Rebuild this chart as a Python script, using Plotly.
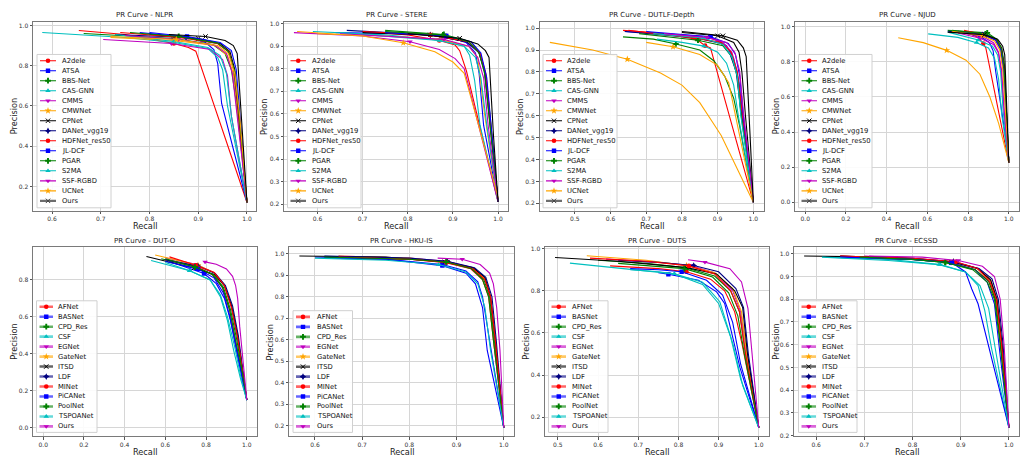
import plotly.graph_objects as go

W, H = 1030, 469

rgbd_methods = ["A2dele", "ATSA", "BBS-Net", "CAS-GNN", "CMMS", "CMWNet", "CPNet", "DANet_vgg19",
                "HDFNet_res50", "JL-DCF", "PGAR", "S2MA", "SSF-RGBD", "UCNet", "Ours"]
rgb_methods = ["AFNet", "BASNet", "CPD_Res", "CSF", "EGNet", "GateNet", "ITSD", "LDF",
               "MINet", "PiCANet", "PoolNet", "TSPOANet", "Ours"]
hku_methods = ["AFNet", "BASNet", "CPD_Res", "EGNet", "GateNet", "ITSD", "LDF",
               "MINet", "PiCANet", "PoolNet", "TSPOANet", "Ours"]

# ---------------- NLPR ----------------
nlpr_recall = [
    [0.655, 0.75, 0.85, 0.88, 0.895, 1.0],
    [0.78, 0.876, 0.915, 0.932, 0.94, 0.948, 1.0],
    [0.665, 0.85, 0.93, 0.955, 0.968, 0.978, 1.0],
    [0.58, 0.75, 0.85, 0.92, 0.94, 0.95, 0.96, 1.0],
    [0.705, 0.845, 0.925, 0.95, 0.96, 0.968, 1.0],
    [0.72, 0.85, 0.935, 0.96, 0.972, 0.982, 1.0],
    [0.8, 0.9, 0.945, 0.965, 0.975, 0.985, 1.0],
    [0.73, 0.875, 0.94, 0.962, 0.973, 0.982, 1.0],
    [0.74, 0.857, 0.94, 0.963, 0.975, 0.985, 1.0],
    [0.8, 0.877, 0.945, 0.968, 0.978, 0.986, 1.0],
    [0.76, 0.86, 0.94, 0.962, 0.975, 0.984, 1.0],
    [0.73, 0.85, 0.92, 0.945, 0.958, 0.968, 1.0],
    [0.75, 0.86, 0.935, 0.958, 0.97, 0.98, 1.0],
    [0.72, 0.855, 0.94, 0.962, 0.975, 0.985, 1.0],
    [0.84, 0.915, 0.955, 0.972, 0.98, 0.99, 1.0],
]
nlpr_precision = [
    [0.975, 0.955, 0.91, 0.89, 0.872, 0.12],
    [0.965, 0.942, 0.915, 0.88, 0.81, 0.612, 0.12],
    [0.96, 0.935, 0.905, 0.86, 0.78, 0.62, 0.12],
    [0.965, 0.94, 0.915, 0.885, 0.84, 0.78, 0.6, 0.12],
    [0.93, 0.91, 0.88, 0.83, 0.75, 0.55, 0.12],
    [0.94, 0.925, 0.9, 0.85, 0.76, 0.55, 0.12],
    [0.955, 0.935, 0.91, 0.87, 0.78, 0.5, 0.12],
    [0.955, 0.94, 0.91, 0.87, 0.78, 0.58, 0.12],
    [0.965, 0.942, 0.91, 0.87, 0.76, 0.5, 0.12],
    [0.965, 0.945, 0.915, 0.875, 0.78, 0.55, 0.12],
    [0.965, 0.945, 0.912, 0.87, 0.77, 0.55, 0.12],
    [0.955, 0.92, 0.89, 0.85, 0.76, 0.55, 0.12],
    [0.95, 0.93, 0.9, 0.86, 0.76, 0.55, 0.12],
    [0.945, 0.93, 0.9, 0.86, 0.76, 0.55, 0.12],
    [0.955, 0.945, 0.925, 0.9, 0.86, 0.5, 0.12],
]
nlpr_mark = [2, 1, 1, 2, 1, 1, 1, 1, 1, 1, 1, 1, 1, 1, 1]

# ---------------- STERE ----------------
stere_recall = [
    [0.7, 0.8, 0.87, 0.905, 0.915, 0.93, 1.0],
    [0.64, 0.8, 0.885, 0.93, 0.95, 0.958, 0.968, 1.0],
    [0.75, 0.88, 0.94, 0.96, 0.972, 0.982, 1.0],
    [0.59, 0.75, 0.875, 0.925, 0.937, 0.948, 0.96, 1.0],
    [0.548, 0.7, 0.805, 0.87, 0.905, 0.925, 1.0],
    [0.6, 0.75, 0.87, 0.935, 0.955, 0.97, 1.0],
    [0.7, 0.85, 0.93, 0.957, 0.97, 0.98, 1.0],
    [0.665, 0.85, 0.93, 0.958, 0.972, 0.982, 1.0],
    [0.7, 0.85, 0.935, 0.96, 0.973, 0.983, 1.0],
    [0.75, 0.885, 0.94, 0.962, 0.975, 0.985, 1.0],
    [0.75, 0.878, 0.935, 0.958, 0.97, 0.98, 1.0],
    [0.65, 0.87, 0.925, 0.95, 0.962, 0.975, 1.0],
    [0.65, 0.88, 0.935, 0.955, 0.968, 0.978, 1.0],
    [0.555, 0.7, 0.79, 0.86, 0.9, 0.925, 0.95, 1.0],
    [0.8, 0.915, 0.955, 0.972, 0.98, 0.99, 1.0],
]
stere_precision = [
    [0.965, 0.95, 0.925, 0.905, 0.88, 0.79, 0.21],
    [0.96, 0.955, 0.945, 0.915, 0.87, 0.78, 0.55, 0.21],
    [0.97, 0.952, 0.92, 0.87, 0.78, 0.6, 0.21],
    [0.965, 0.95, 0.925, 0.9, 0.86, 0.75, 0.55, 0.21],
    [0.96, 0.945, 0.92, 0.885, 0.845, 0.8, 0.21],
    [0.955, 0.945, 0.93, 0.9, 0.85, 0.6, 0.21],
    [0.96, 0.95, 0.92, 0.875, 0.79, 0.6, 0.21],
    [0.97, 0.95, 0.92, 0.87, 0.78, 0.58, 0.21],
    [0.965, 0.95, 0.92, 0.87, 0.78, 0.58, 0.21],
    [0.96, 0.945, 0.92, 0.87, 0.76, 0.55, 0.21],
    [0.965, 0.95, 0.92, 0.87, 0.78, 0.58, 0.21],
    [0.96, 0.925, 0.9, 0.85, 0.76, 0.55, 0.21],
    [0.955, 0.93, 0.9, 0.85, 0.76, 0.55, 0.21],
    [0.965, 0.945, 0.915, 0.875, 0.83, 0.78, 0.6, 0.23],
    [0.955, 0.935, 0.91, 0.88, 0.85, 0.5, 0.21],
]
stere_mark = [2, 2, 1, 2, 2, 2, 1, 1, 1, 1, 1, 1, 1, 2, 1]

# ---------------- DUTLF-Depth ----------------
dutlf_recall = [
    [0.635, 0.75, 0.84, 0.865, 0.88, 1.0],
    [0.64, 0.8, 0.88, 0.925, 0.945, 0.96, 0.97, 1.0],
    [0.635, 0.72, 0.783, 0.85, 0.89, 0.92, 0.945, 0.962, 1.0],
    [0.73, 0.8, 0.862, 0.9, 0.925, 0.945, 0.958, 1.0],
    [0.75, 0.87, 0.915, 0.94, 0.955, 0.965, 1.0],
    [0.43, 0.55, 0.647, 0.74, 0.8, 0.85, 0.89, 0.91, 1.0],
    [0.8, 0.9, 0.945, 0.96, 0.968, 0.978, 1.0],
    [0.64, 0.84, 0.91, 0.935, 0.952, 0.963, 1.0],
    [0.65, 0.835, 0.91, 0.938, 0.955, 0.968, 1.0],
    [0.7, 0.88, 0.93, 0.95, 0.962, 0.972, 1.0],
    [0.68, 0.845, 0.915, 0.94, 0.955, 0.966, 1.0],
    [0.72, 0.86, 0.915, 0.94, 0.955, 0.965, 1.0],
    [0.75, 0.87, 0.925, 0.948, 0.962, 0.972, 1.0],
    [0.7, 0.775, 0.85, 0.9, 0.931, 1.0],
    [0.8, 0.915, 0.955, 0.972, 0.98, 0.988, 1.0],
]
dutlf_precision = [
    [0.99, 0.975, 0.95, 0.92, 0.91, 0.205],
    [0.985, 0.97, 0.96, 0.92, 0.86, 0.75, 0.6, 0.205],
    [0.96, 0.95, 0.928, 0.9, 0.85, 0.78, 0.68, 0.55, 0.205],
    [0.95, 0.935, 0.918, 0.89, 0.84, 0.74, 0.6, 0.205],
    [0.975, 0.958, 0.935, 0.89, 0.8, 0.65, 0.205],
    [0.935, 0.9, 0.858, 0.795, 0.74, 0.66, 0.56, 0.51, 0.205],
    [0.98, 0.965, 0.935, 0.89, 0.8, 0.6, 0.205],
    [0.985, 0.955, 0.93, 0.88, 0.8, 0.65, 0.205],
    [0.99, 0.955, 0.935, 0.89, 0.8, 0.62, 0.205],
    [0.985, 0.96, 0.93, 0.88, 0.78, 0.6, 0.205],
    [0.975, 0.945, 0.92, 0.87, 0.78, 0.6, 0.205],
    [0.975, 0.955, 0.925, 0.87, 0.78, 0.6, 0.205],
    [0.975, 0.958, 0.935, 0.89, 0.8, 0.62, 0.205],
    [0.935, 0.915, 0.88, 0.83, 0.751, 0.205],
    [0.985, 0.965, 0.945, 0.91, 0.87, 0.6, 0.205],
]
dutlf_mark = [3, 2, 2, 2, 1, 2, 1, 1, 1, 1, 1, 1, 1, 1, 1]

# ---------------- NJUD ----------------
njud_recall = [
    [0.78, 0.85, 0.875, 0.887, 1.0],
    [0.75, 0.86, 0.905, 0.923, 0.935, 1.0],
    [0.7, 0.894, 0.94, 0.962, 0.975, 0.985, 1.0],
    [0.604, 0.75, 0.842, 0.9, 0.93, 0.95, 0.965, 1.0],
    [0.75, 0.87, 0.925, 0.948, 0.962, 0.975, 1.0],
    [0.457, 0.58, 0.695, 0.79, 0.858, 0.907, 0.95, 1.0],
    [0.72, 0.88, 0.94, 0.965, 0.978, 0.988, 1.0],
    [0.7, 0.87, 0.935, 0.96, 0.973, 0.983, 1.0],
    [0.78, 0.88, 0.94, 0.963, 0.976, 0.986, 1.0],
    [0.75, 0.875, 0.935, 0.96, 0.973, 0.983, 1.0],
    [0.72, 0.885, 0.94, 0.963, 0.976, 0.986, 1.0],
    [0.7, 0.85, 0.92, 0.945, 0.96, 0.972, 1.0],
    [0.75, 0.86, 0.925, 0.95, 0.965, 0.977, 1.0],
    [0.72, 0.87, 0.93, 0.955, 0.97, 0.982, 1.0],
    [0.7, 0.88, 0.945, 0.97, 0.98, 0.99, 1.0],
]
njud_precision = [
    [0.975, 0.94, 0.905, 0.88, 0.225],
    [0.975, 0.945, 0.91, 0.863, 0.75, 0.25],
    [0.98, 0.966, 0.93, 0.88, 0.78, 0.6, 0.225],
    [0.96, 0.94, 0.91, 0.88, 0.82, 0.7, 0.5, 0.225],
    [0.97, 0.945, 0.91, 0.86, 0.75, 0.55, 0.225],
    [0.938, 0.91, 0.866, 0.81, 0.73, 0.6, 0.45, 0.225],
    [0.975, 0.955, 0.925, 0.88, 0.78, 0.55, 0.225],
    [0.975, 0.955, 0.925, 0.875, 0.77, 0.55, 0.225],
    [0.98, 0.955, 0.925, 0.875, 0.77, 0.55, 0.225],
    [0.975, 0.955, 0.925, 0.87, 0.76, 0.55, 0.225],
    [0.98, 0.96, 0.93, 0.88, 0.78, 0.58, 0.225],
    [0.97, 0.925, 0.89, 0.84, 0.74, 0.52, 0.225],
    [0.965, 0.935, 0.9, 0.85, 0.75, 0.52, 0.225],
    [0.975, 0.95, 0.92, 0.87, 0.76, 0.55, 0.225],
    [0.97, 0.955, 0.93, 0.89, 0.84, 0.55, 0.225],
]
njud_mark = [2, 1, 1, 2, 1, 2, 1, 1, 1, 1, 1, 1, 1, 1, 1]

# ---------------- DUT-O ----------------
duto_recall = [
    [0.6, 0.75, 0.83, 0.88, 0.915, 0.945, 0.975, 1.0],
    [0.62, 0.79, 0.85, 0.89, 0.92, 0.95, 0.975, 1.0],
    [0.58, 0.745, 0.83, 0.88, 0.915, 0.945, 0.975, 1.0],
    [0.53, 0.72, 0.82, 0.87, 0.905, 0.94, 0.97, 1.0],
    [0.6, 0.75, 0.84, 0.89, 0.925, 0.955, 0.98, 1.0],
    [0.55, 0.76, 0.84, 0.89, 0.925, 0.955, 0.98, 1.0],
    [0.507, 0.74, 0.84, 0.89, 0.925, 0.955, 0.98, 1.0],
    [0.6, 0.76, 0.845, 0.895, 0.93, 0.958, 0.982, 1.0],
    [0.62, 0.75, 0.84, 0.89, 0.925, 0.955, 0.98, 1.0],
    [0.6, 0.76, 0.84, 0.885, 0.915, 0.945, 0.975, 1.0],
    [0.6, 0.745, 0.835, 0.885, 0.92, 0.95, 0.978, 1.0],
    [0.6, 0.72, 0.82, 0.87, 0.905, 0.935, 0.968, 1.0],
    [0.795, 0.85, 0.9, 0.93, 0.945, 0.955, 0.965, 1.0],
]
duto_precision = [
    [0.91, 0.875, 0.83, 0.76, 0.64, 0.48, 0.3, 0.15],
    [0.9, 0.835, 0.78, 0.7, 0.58, 0.42, 0.28, 0.15],
    [0.915, 0.87, 0.83, 0.76, 0.64, 0.48, 0.3, 0.15],
    [0.905, 0.85, 0.8, 0.72, 0.6, 0.44, 0.28, 0.15],
    [0.92, 0.885, 0.84, 0.77, 0.65, 0.48, 0.3, 0.15],
    [0.935, 0.88, 0.84, 0.77, 0.66, 0.5, 0.3, 0.15],
    [0.927, 0.865, 0.83, 0.77, 0.66, 0.5, 0.3, 0.15],
    [0.91, 0.875, 0.835, 0.77, 0.66, 0.5, 0.3, 0.15],
    [0.925, 0.88, 0.84, 0.77, 0.65, 0.49, 0.3, 0.15],
    [0.9, 0.86, 0.81, 0.73, 0.61, 0.45, 0.28, 0.15],
    [0.915, 0.87, 0.83, 0.76, 0.64, 0.48, 0.3, 0.15],
    [0.895, 0.85, 0.8, 0.71, 0.58, 0.42, 0.27, 0.15],
    [0.898, 0.885, 0.86, 0.82, 0.77, 0.7, 0.55, 0.15],
]
duto_mark = [1, 1, 1, 1, 1, 1, 1, 1, 1, 1, 1, 1, 0]

# ---------------- HKU-IS ----------------
hku_recall = [
    [0.69, 0.8, 0.875, 0.93, 0.955, 0.968, 0.978, 1.0],
    [0.6, 0.75, 0.87, 0.92, 0.945, 0.955, 1.0],
    [0.62, 0.8, 0.88, 0.935, 0.958, 0.97, 0.98, 1.0],
    [0.65, 0.8, 0.878, 0.935, 0.96, 0.972, 0.982, 1.0],
    [0.65, 0.8, 0.878, 0.935, 0.96, 0.972, 0.982, 1.0],
    [0.567, 0.75, 0.875, 0.935, 0.96, 0.972, 0.982, 1.0],
    [0.62, 0.8, 0.88, 0.938, 0.962, 0.975, 0.984, 1.0],
    [0.65, 0.8, 0.878, 0.935, 0.96, 0.972, 0.982, 1.0],
    [0.62, 0.75, 0.87, 0.92, 0.94, 0.955, 0.965, 1.0],
    [0.62, 0.8, 0.878, 0.932, 0.955, 0.968, 0.978, 1.0],
    [0.6, 0.75, 0.862, 0.92, 0.945, 0.96, 0.972, 1.0],
    [0.86, 0.912, 0.95, 0.97, 0.978, 0.985, 0.992, 1.0],
]
hku_precision = [
    [0.975, 0.975, 0.96, 0.93, 0.88, 0.8, 0.6, 0.19],
    [0.985, 0.975, 0.95, 0.92, 0.87, 0.8, 0.19],
    [0.985, 0.975, 0.965, 0.93, 0.88, 0.8, 0.6, 0.19],
    [0.99, 0.98, 0.965, 0.935, 0.885, 0.8, 0.6, 0.19],
    [0.99, 0.98, 0.962, 0.935, 0.885, 0.8, 0.6, 0.19],
    [0.99, 0.985, 0.962, 0.935, 0.89, 0.8, 0.6, 0.19],
    [0.99, 0.98, 0.965, 0.935, 0.89, 0.8, 0.6, 0.19],
    [0.985, 0.975, 0.96, 0.93, 0.88, 0.8, 0.6, 0.19],
    [0.98, 0.975, 0.945, 0.91, 0.86, 0.75, 0.55, 0.19],
    [0.985, 0.975, 0.962, 0.93, 0.88, 0.8, 0.6, 0.19],
    [0.98, 0.97, 0.95, 0.915, 0.86, 0.75, 0.55, 0.19],
    [0.98, 0.975, 0.95, 0.91, 0.86, 0.75, 0.55, 0.19],
]
hku_mark = [2, 2, 2, 2, 2, 2, 2, 2, 2, 2, 2, 1]

# ---------------- DUTS ----------------
duts_recall = [
    [0.63, 0.75, 0.82, 0.88, 0.915, 0.94, 0.958, 1.0],
    [0.75, 0.775, 0.85, 0.895, 0.915, 0.953, 1.0],
    [0.6, 0.72, 0.815, 0.89, 0.93, 0.952, 0.967, 1.0],
    [0.53, 0.7, 0.79, 0.86, 0.903, 0.936, 0.96, 1.0],
    [0.62, 0.75, 0.83, 0.89, 0.935, 0.955, 0.97, 1.0],
    [0.572, 0.72, 0.82, 0.89, 0.935, 0.957, 0.97, 1.0],
    [0.493, 0.65, 0.82, 0.895, 0.94, 0.96, 0.972, 1.0],
    [0.65, 0.75, 0.838, 0.9, 0.943, 0.962, 0.974, 1.0],
    [0.58, 0.72, 0.826, 0.89, 0.93, 0.952, 0.967, 1.0],
    [0.68, 0.75, 0.808, 0.87, 0.91, 0.935, 0.955, 1.0],
    [0.65, 0.75, 0.815, 0.885, 0.925, 0.948, 0.964, 1.0],
    [0.68, 0.75, 0.79, 0.86, 0.9, 0.93, 0.955, 1.0],
    [0.824, 0.866, 0.928, 0.957, 0.973, 0.985, 1.0],
]
duts_precision = [
    [0.918, 0.905, 0.89, 0.855, 0.8, 0.7, 0.55, 0.15],
    [0.886, 0.878, 0.85, 0.795, 0.74, 0.436, 0.15],
    [0.945, 0.93, 0.91, 0.87, 0.8, 0.7, 0.5, 0.15],
    [0.931, 0.9, 0.88, 0.84, 0.748, 0.545, 0.35, 0.15],
    [0.95, 0.935, 0.92, 0.885, 0.8, 0.7, 0.5, 0.15],
    [0.966, 0.945, 0.92, 0.885, 0.81, 0.7, 0.5, 0.15],
    [0.958, 0.94, 0.91, 0.88, 0.8, 0.72, 0.5, 0.15],
    [0.945, 0.935, 0.92, 0.89, 0.81, 0.72, 0.5, 0.15],
    [0.955, 0.94, 0.918, 0.88, 0.8, 0.7, 0.5, 0.15],
    [0.905, 0.9, 0.89, 0.85, 0.78, 0.65, 0.45, 0.15],
    [0.93, 0.915, 0.905, 0.865, 0.79, 0.68, 0.5, 0.15],
    [0.9, 0.89, 0.88, 0.83, 0.74, 0.58, 0.38, 0.15],
    [0.947, 0.936, 0.905, 0.842, 0.717, 0.45, 0.15],
]
duts_mark = [2, 1, 2, 2, 2, 2, 2, 2, 2, 2, 2, 2, 1]

# ---------------- ECSSD ----------------
ecssd_recall = [
    [0.65, 0.8, 0.88, 0.93, 0.958, 0.972, 0.983, 1.0],
    [0.62, 0.8, 0.88, 0.93, 0.955, 0.97, 0.982, 1.0],
    [0.65, 0.8, 0.868, 0.93, 0.958, 0.972, 0.983, 1.0],
    [0.612, 0.75, 0.858, 0.91, 0.936, 0.95, 0.964, 1.0],
    [0.7, 0.8, 0.885, 0.935, 0.962, 0.975, 0.985, 1.0],
    [0.65, 0.8, 0.885, 0.935, 0.962, 0.975, 0.985, 1.0],
    [0.575, 0.75, 0.88, 0.935, 0.962, 0.975, 0.986, 1.0],
    [0.65, 0.8, 0.885, 0.938, 0.965, 0.978, 0.988, 1.0],
    [0.65, 0.8, 0.89, 0.935, 0.96, 0.974, 0.985, 1.0],
    [0.65, 0.8, 0.882, 0.91, 0.923, 0.936, 1.0],
    [0.69, 0.8, 0.868, 0.925, 0.955, 0.97, 0.982, 1.0],
    [0.612, 0.75, 0.855, 0.91, 0.94, 0.958, 0.972, 1.0],
    [0.71, 0.82, 0.895, 0.945, 0.97, 0.982, 0.99, 1.0],
]
ecssd_precision = [
    [0.99, 0.975, 0.96, 0.93, 0.88, 0.8, 0.6, 0.235],
    [0.985, 0.975, 0.96, 0.93, 0.875, 0.78, 0.55, 0.235],
    [0.985, 0.975, 0.962, 0.93, 0.88, 0.8, 0.6, 0.235],
    [0.987, 0.975, 0.952, 0.92, 0.86, 0.75, 0.584, 0.235],
    [0.99, 0.98, 0.965, 0.935, 0.885, 0.8, 0.6, 0.235],
    [0.99, 0.98, 0.965, 0.935, 0.885, 0.8, 0.6, 0.235],
    [0.99, 0.985, 0.965, 0.935, 0.885, 0.8, 0.6, 0.235],
    [0.99, 0.98, 0.965, 0.935, 0.89, 0.8, 0.6, 0.235],
    [0.99, 0.98, 0.965, 0.935, 0.88, 0.8, 0.6, 0.235],
    [0.985, 0.975, 0.96, 0.92, 0.845, 0.78, 0.236],
    [0.985, 0.975, 0.962, 0.93, 0.875, 0.8, 0.6, 0.235],
    [0.985, 0.97, 0.952, 0.92, 0.86, 0.76, 0.58, 0.235],
    [0.99, 0.985, 0.97, 0.945, 0.9, 0.8, 0.6, 0.235],
]
ecssd_mark = [2, 2, 2, 2, 2, 2, 2, 2, 2, 2, 2, 2, 2]

# ---------------- tick values ----------------
nlpr_xticks = [0.6, 0.7, 0.8, 0.9, 1.0]
nlpr_yticks = [0.2, 0.4, 0.6, 0.8, 1.0]
stere_xticks = [0.6, 0.7, 0.8, 0.9, 1.0]
stere_yticks = [0.2, 0.3, 0.4, 0.5, 0.6, 0.7, 0.8, 0.9, 1.0]
dutlf_xticks = [0.5, 0.6, 0.7, 0.8, 0.9, 1.0]
dutlf_yticks = [0.2, 0.3, 0.4, 0.5, 0.6, 0.7, 0.8, 0.9, 1.0]
njud_xticks = [0.0, 0.2, 0.4, 0.6, 0.8, 1.0]
njud_yticks = [0.0, 0.2, 0.4, 0.6, 0.8, 1.0]
duto_xticks = [0.0, 0.2, 0.4, 0.6, 0.8, 1.0]
duto_yticks = [0.0, 0.2, 0.4, 0.6, 0.8]
hku_xticks = [0.6, 0.7, 0.8, 0.9, 1.0]
hku_yticks = [0.2, 0.3, 0.4, 0.5, 0.6, 0.7, 0.8, 0.9, 1.0]
duts_xticks = [0.5, 0.6, 0.7, 0.8, 0.9, 1.0]
duts_yticks = [0.2, 0.4, 0.6, 0.8, 1.0]
ecssd_xticks = [0.6, 0.7, 0.8, 0.9, 1.0]
ecssd_yticks = [0.2, 0.3, 0.4, 0.5, 0.6, 0.7, 0.8, 0.9, 1.0]

# ---------------- styles ----------------
RED, BLUE, GREEN, CYAN, MAG, ORANGE, BLACK, NAVY = (
    "#ff0000", "#0000ff", "#008000", "#00bfbf", "#bf00bf", "#ffa500", "#000000", "#000080")
rgbd_style = {
    "A2dele": (RED, "circle"), "ATSA": (BLUE, "square"), "BBS-Net": (GREEN, "cross"),
    "CAS-GNN": (CYAN, "triangle-up"), "CMMS": (MAG, "triangle-down"), "CMWNet": (ORANGE, "star"),
    "CPNet": (BLACK, "x-thin"), "DANet_vgg19": (NAVY, "star-diamond"), "HDFNet_res50": (RED, "circle"),
    "JL-DCF": (BLUE, "square"), "PGAR": (GREEN, "cross"), "S2MA": (CYAN, "triangle-up"),
    "SSF-RGBD": (MAG, "triangle-down"), "UCNet": (ORANGE, "star"), "Ours": (BLACK, "x-thin"),
}
rgb_style = {
    "AFNet": (RED, "circle"), "BASNet": (BLUE, "square"), "CPD_Res": (GREEN, "cross"),
    "CSF": (CYAN, "triangle-up"), "EGNet": (MAG, "triangle-down"), "GateNet": (ORANGE, "star"),
    "ITSD": (BLACK, "x-thin"), "LDF": (NAVY, "star-diamond"), "MINet": (RED, "circle"),
    "PiCANet": (BLUE, "square"), "PoolNet": (GREEN, "cross"), "TSPOANet": (CYAN, "triangle-up"),
    "Ours": (MAG, "triangle-down"),
}
symbol_size = {"circle": 4.6, "square": 4.4, "cross": 4.8, "triangle-up": 4.8, "triangle-down": 4.8,
               "star": 5.2, "x-thin": 4.4, "star-diamond": 4.8}

# panel layout in pixels: (x0, x1, y0, y1)
panels = [
    dict(title="PR Curve - NLPR", m=rgbd_methods, R=nlpr_recall, P=nlpr_precision, K=nlpr_mark,
         st=rgbd_style, xr=[0.561, 1.0185], yr=[0.079, 1.018], xt=nlpr_xticks, yt=nlpr_yticks,
         dom=(33, 256, 19, 210), ylab_x=14, leg=(37, 111, 52, 207, 40, 56, 59.5, 58.3, 10.12), top=True),
    dict(title="PR Curve - STERE", m=rgbd_methods, R=stere_recall, P=stere_precision, K=stere_mark,
         st=rgbd_style, xr=[0.526, 1.022], yr=[0.171, 1.008], xt=stere_xticks, yt=stere_yticks,
         dom=(284, 508, 19, 210), ylab_x=264.7, leg=(287.5, 361, 52, 207, 290.5, 306, 309.7, 58.3, 10.12), top=True),
    dict(title="PR Curve - DUTLF-Depth", m=rgbd_methods, R=dutlf_recall, P=dutlf_precision, K=dutlf_mark,
         st=rgbd_style, xr=[0.401, 1.0285], yr=[0.166, 1.029], xt=dutlf_xticks, yt=dutlf_yticks,
         dom=(539.5, 763.5, 19, 210), ylab_x=520.7, leg=(543, 617, 52, 207, 546, 562, 565, 58.3, 10.12), top=True),
    dict(title="PR Curve - NJUD", m=rgbd_methods, R=njud_recall, P=njud_precision, K=njud_mark,
         st=rgbd_style, xr=[-0.05, 1.05], yr=[-0.049, 1.029], xt=njud_xticks, yt=njud_yticks,
         dom=(795, 1019, 19, 210), ylab_x=776, leg=(798.5, 872, 52, 207, 801.5, 817, 820.3, 58.3, 10.12), top=True),
    dict(title="PR Curve - DUT-O", m=rgb_methods, R=duto_recall, P=duto_precision, K=duto_mark,
         st=rgb_style, xr=[-0.05, 1.05], yr=[-0.0465, 0.9765], xt=duto_xticks, yt=duto_yticks,
         dom=(33, 257, 247, 438), ylab_x=14, leg=(36.5, 97, 301, 434, 39.5, 53, 55.5, 307, 10.08), top=False),
    dict(title="PR Curve - HKU-IS", m=hku_methods, R=hku_recall, P=hku_precision, K=hku_mark,
         st=rgb_style, xr=[0.545, 1.0217], yr=[0.15, 1.03], xt=hku_xticks, yt=hku_yticks,
         dom=(289, 514, 247, 438), ylab_x=269.7, leg=(293, 352.5, 311, 434, 296, 310, 314.5, 317.3, 10.06), top=False),
    dict(title="PR Curve - DUTS", m=rgb_methods, R=duts_recall, P=duts_precision, K=duts_mark,
         st=rgb_style, xr=[0.468, 1.0254], yr=[0.109, 1.006], xt=duts_xticks, yt=duts_yticks,
         dom=(545, 769, 247, 438), ylab_x=526, leg=(548.5, 608, 301, 434, 551.5, 566, 570, 307, 10.08), top=False),
    dict(title="PR Curve - ECSSD", m=rgb_methods, R=ecssd_recall, P=ecssd_precision, K=ecssd_mark,
         st=rgb_style, xr=[0.554, 1.021], yr=[0.197, 1.028], xt=ecssd_xticks, yt=ecssd_yticks,
         dom=(794, 1019, 247, 438), ylab_x=776, leg=(798.5, 857, 301, 434, 801.5, 816, 820.3, 307, 10.08), top=False),
]

FONT = "DejaVu Sans"
fig = go.Figure()
annotations = []
layout_axes = {}


def rgba(hexc, a):
    h = hexc.lstrip("#")
    return "rgba(%d,%d,%d,%.2f)" % (int(h[0:2], 16), int(h[2:4], 16), int(h[4:6], 16), a)


def marker_dict(color, symbol):
    size = symbol_size[symbol]
    if symbol == "x-thin":
        return dict(symbol=symbol, size=size, color=color, line=dict(color=color, width=1))
    return dict(symbol=symbol, size=size, color=color, line=dict(width=0))


for i, pn in enumerate(panels):
    n = i + 1
    xa, ya = ("x%d" % n if n > 1 else "x"), ("y%d" % n if n > 1 else "y")
    x0, x1, y0, y1 = pn["dom"]
    xr, yr = pn["xr"], pn["yr"]

    def to_data(px, py, x0=x0, x1=x1, y0=y0, y1=y1, xr=xr, yr=yr):
        return (xr[0] + (px - x0) / (x1 - x0) * (xr[1] - xr[0]),
                yr[1] - (py - y0) / (y1 - y0) * (yr[1] - yr[0]))

    # curves
    for j, meth in enumerate(pn["m"]):
        color, sym = pn["st"][meth]
        r, p, k = pn["R"][j], pn["P"][j], pn["K"][j]
        fig.add_trace(go.Scatter(x=r, y=p, mode="lines", line=dict(color=color, width=1.1),
                                 xaxis=xa, yaxis=ya, showlegend=False, hoverinfo="skip"))
        fig.add_trace(go.Scatter(x=[r[k]], y=[p[k]], mode="markers",
                                 marker=marker_dict(color, sym),
                                 xaxis=xa, yaxis=ya, showlegend=False, hoverinfo="skip"))

    # legend box
    lx0, lx1, ly0, ly1, sx0, sx1, tx, ty0, dy = pn["leg"]
    bx = [lx0, lx1, lx1, lx0, lx0]
    by = [ly0, ly0, ly1, ly1, ly0]
    pts = [to_data(a, b) for a, b in zip(bx, by)]
    fig.add_trace(go.Scatter(x=[q[0] for q in pts], y=[q[1] for q in pts], mode="lines", fill="toself",
                             fillcolor="rgba(255,255,255,0.9)", line=dict(color="#d0d0d0", width=1),
                             xaxis=xa, yaxis=ya, showlegend=False, hoverinfo="skip"))
    for j, meth in enumerate(pn["m"]):
        color, sym = pn["st"][meth]
        py = ty0 + j * dy
        a0 = to_data(sx0, py)
        a1 = to_data(sx1, py)
        am = to_data((sx0 + sx1) / 2, py)
        mcol = color
        if pn["top"]:
            if meth == "Ours":
                lc, lw, mcol = "rgba(60,60,60,0.75)", 2.4, "#444444"
            else:
                lc, lw = color, 1.1
        else:
            lc, lw = rgba(color, 0.6), 2.6
        fig.add_trace(go.Scatter(x=[a0[0], a1[0]], y=[a0[1], a1[1]], mode="lines",
                                 line=dict(color=lc, width=lw), xaxis=xa, yaxis=ya,
                                 showlegend=False, hoverinfo="skip"))
        fig.add_trace(go.Scatter(x=[am[0]], y=[am[1]], mode="markers",
                                 marker=marker_dict(mcol, sym),
                                 xaxis=xa, yaxis=ya, showlegend=False, hoverinfo="skip"))
        annotations.append(dict(x=tx / W, y=1 - py / H, xref="paper", yref="paper", text=meth,
                                showarrow=False, xanchor="left", yanchor="middle",
                                font=dict(family=FONT, size=6.8, color="#111")))

    axis_common = dict(showgrid=True, gridcolor="#d6d6d6", gridwidth=1, zeroline=False,
                       showline=True, mirror=True, linecolor="#7a7a7a", linewidth=1,
                       ticks="outside", ticklen=2.5, tickwidth=1, tickcolor="#555",
                       tickfont=dict(family=FONT, size=6, color="#333"))
    layout_axes["xaxis%d" % n if n > 1 else "xaxis"] = dict(
        axis_common, domain=[x0 / W, x1 / W], range=xr, tickvals=pn["xt"],
        ticktext=["%.1f" % v for v in pn["xt"]], anchor=ya)
    layout_axes["yaxis%d" % n if n > 1 else "yaxis"] = dict(
        axis_common, domain=[1 - y1 / H, 1 - y0 / H], range=yr, tickvals=pn["yt"],
        ticktext=["%.1f" % v for v in pn["yt"]], anchor=xa)

    title_y = 12.5 if pn["top"] else 241
    rec_y = 225.5 if pn["top"] else 453.5
    annotations.append(dict(x=(x0 + x1) / 2 / W, y=1 - title_y / H, xref="paper", yref="paper",
                            text=pn["title"], showarrow=False, xanchor="center", yanchor="middle",
                            font=dict(family=FONT, size=7, color="#222")))
    annotations.append(dict(x=(x0 + x1) / 2 / W, y=1 - rec_y / H, xref="paper", yref="paper",
                            text="Recall", showarrow=False, xanchor="center", yanchor="middle",
                            font=dict(family=FONT, size=8.2, color="#222")))
    annotations.append(dict(x=pn["ylab_x"] / W, y=1 - (y0 + y1) / 2 / H, xref="paper", yref="paper",
                            text="Precision", showarrow=False, xanchor="center", yanchor="middle",
                            textangle=-90, font=dict(family=FONT, size=8.2, color="#222")))

fig.update_layout(
    width=W, height=H, margin=dict(l=0, r=0, t=0, b=0),
    paper_bgcolor="white", plot_bgcolor="white", showlegend=False,
    annotations=annotations, **layout_axes)

fig.write_html("out.html")
